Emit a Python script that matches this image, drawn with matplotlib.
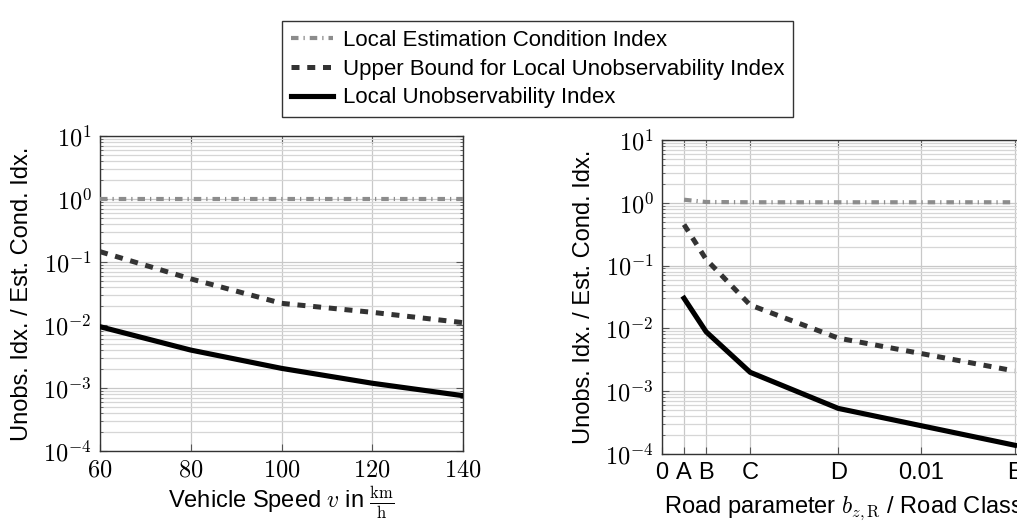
import matplotlib
matplotlib.use("Agg")
import matplotlib.pyplot as plt
from matplotlib.ticker import FixedLocator, LogLocator, NullFormatter

plt.rcParams['font.family'] = ['Liberation Sans', 'DejaVu Sans']
plt.rcParams['mathtext.fontset'] = 'cm'
plt.rcParams['font.size'] = 17

# left panel: vehicle speed
speed = [60, 80, 100, 120, 140]
speed_cond = [1.0, 1.0, 1.0, 1.0, 1.0]
speed_bound = [0.146, 0.054, 0.0221, 0.0159, 0.0109]
speed_lui = [0.0094, 0.0040, 0.00205, 0.00119, 0.000755]
speed_ticks = [60, 80, 100, 120, 140]

# right panel: road parameter / road class
road_x = [0.00085, 0.0017, 0.0034, 0.0068, 0.0136]
road_cond = [1.12, 1.03, 1.02, 1.02, 1.02]
road_bound = [0.45, 0.126, 0.0236, 0.0070, 0.0021]
road_lui = [0.0302, 0.00885, 0.0020, 0.000532, 0.000138]
road_ticks = [0, 0.00085, 0.0017, 0.0034, 0.0068, 0.01, 0.0136]
road_ticklabels = ["0", "A", "B", "C", "D", "0.01", "E"]

labels = ["Local Estimation Condition Index",
          "Upper Bound for Local Unobservability Index",
          "Local Unobservability Index"]

W, H = 1017, 522
fig = plt.figure(figsize=(W / 100, H / 100), dpi=100)
ax1 = fig.add_axes([100 / W, (H - 451) / H, 363 / W, 315 / H])
ax2 = fig.add_axes([662 / W, (H - 454) / H, 363 / W, 314 / H])

ytick_vals = [1e-4, 1e-3, 1e-2, 1e-1, 1e0, 1e1]
ytick_labels = [r'$10^{%d}$' % e for e in range(-4, 2)]


def style(ax, x, cond, bound, lui):
    l1, = ax.plot(x, cond, color='#8c8c8c', lw=3.0, dashes=(1.8, 1.2, 0.3, 1.2),
                  label=labels[0], zorder=3)
    l2, = ax.plot(x, bound, color='#333333', lw=3.6, dashes=(1.6, 1.55),
                  label=labels[1], zorder=3)
    l3, = ax.plot(x, lui, color='black', lw=3.7, label=labels[2], zorder=3)
    ax.set_yscale('log')
    ax.set_ylim(1e-4, 1e1)
    ax.yaxis.set_major_locator(FixedLocator(ytick_vals))
    ax.set_yticklabels(ytick_labels, fontsize=17.5)
    ax.yaxis.set_minor_locator(LogLocator(base=10, subs=range(2, 10), numticks=20))
    ax.yaxis.set_minor_formatter(NullFormatter())
    ax.grid(True, which='major', color='#c8c8c8', lw=0.9)
    ax.grid(True, which='minor', axis='y', color='#d6d6d6', lw=0.9)
    ax.set_axisbelow(True)
    ax.tick_params(which='both', direction='in', top=True, right=True,
                   color='#555555')
    ax.tick_params(which='major', length=5, pad=6)
    ax.tick_params(which='minor', length=2.5)
    for s in ax.spines.values():
        s.set_color('#333333')
        s.set_linewidth(1.0)
    ax.set_ylabel("Unobs. Idx. / Est. Cond. Idx.", labelpad=7)
    return [l1, l2, l3]


handles = style(ax1, speed, speed_cond, speed_bound, speed_lui)
ax1.set_xlim(60, 140)
ax1.set_xticks(speed_ticks)
ax1.set_xticklabels([r'$%d$' % v for v in speed_ticks], fontsize=17.5)
ax1.set_xlabel(r"Vehicle Speed $v$ in $\frac{\mathrm{km}}{\mathrm{h}}$", labelpad=2)

style(ax2, road_x, road_cond, road_bound, road_lui)
ax2.set_xlim(0, 0.014)
ax2.set_xticks(road_ticks)
ax2.set_xticklabels(road_ticklabels)
ax2.set_xlabel(r"Road parameter $b_{z,\mathrm{R}}$ / Road Class", labelpad=7)

leg = fig.legend(handles=handles, labels=labels, loc='upper center',
                 bbox_to_anchor=(0.5285, 0.981), fancybox=False, framealpha=1,
                 edgecolor='#333333', handlelength=1.9, handletextpad=0.45,
                 labelspacing=0.35, borderpad=0.4, fontsize=16)
leg.get_frame().set_linewidth(1.0)

fig.savefig("out.png", dpi=100)
